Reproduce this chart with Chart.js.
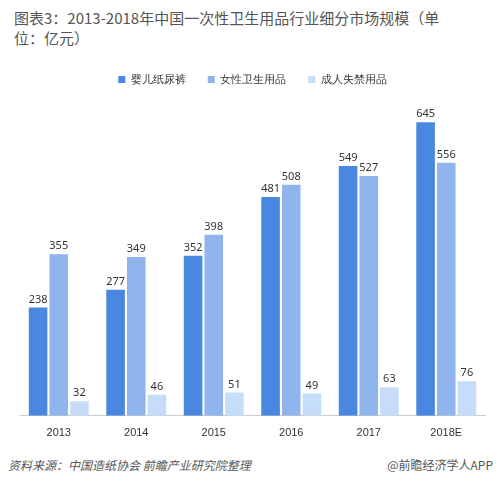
<!DOCTYPE html>
<html><head><meta charset="utf-8">
<script src="https://cdn.jsdelivr.net/npm/chart.js@4"></script>
<style>
body{margin:0;width:501px;height:484px;background:#fff;font-family:"Noto Sans CJK SC",sans-serif;position:relative;overflow:hidden}
#title{position:absolute;left:14px;top:8px;width:480px;font-size:15px;line-height:20px;color:#555}
#wrap{position:absolute;left:0;top:52px;width:501px;height:391px}
#foot{position:absolute;left:8px;top:456px;font-size:12px;color:#555;font-style:italic}
#foot2{position:absolute;right:8px;top:456px;font-size:12px;color:#555}
</style></head><body>
<div id="title">图表3：2013-2018年中国一次性卫生用品行业细分市场规模（单<br>位：亿元）</div>
<div id="wrap"><canvas id="c"></canvas></div>
<div id="foot">资料来源：中国造纸协会 前瞻产业研究院整理</div>
<div id="foot2">@前瞻经济学人APP</div>
<script>
const years = ["2013","2014","2015","2016","2017","2018E"]
const babyDiapers = [238,277,352,481,549,645]
const femaleHygiene = [355,349,398,508,527,556]
const adultIncontinence = [32,46,51,49,63,76]

const labelPlugin = {
    id: "labels",
    afterDatasetsDraw(chart) {
        const ctx = chart.ctx
        ctx.save()
        ctx.fillStyle = "#333"
        ctx.font = "11px 'Noto Sans', sans-serif"
        ctx.textAlign = "center"
        chart.data.datasets.forEach((ds, i) => {
            chart.getDatasetMeta(i).data.forEach((bar, j) => {
                ctx.fillText(ds.data[j], bar.x, bar.y - 8)
            })
        })
        ctx.restore()
    }
}

new Chart(document.getElementById("c"), {
    type: "bar",
    data: {
        labels: years,
        datasets: [
            { label: "婴儿纸尿裤", data: babyDiapers, backgroundColor: "#4a87de" },
            { label: "女性卫生用品", data: femaleHygiene, backgroundColor: "#8fb5ec" },
            { label: "成人失禁用品", data: adultIncontinence, backgroundColor: "#c6ddf9" }
        ]
    },
    options: {
        responsive: true,
        maintainAspectRatio: false,
        animation: false,
        layout: { padding: { left: 20, right: 16 } },
        plugins: {
            legend: {
                labels: { boxWidth: 7, boxHeight: 7, font: { size: 11 }, color: "#333", padding: 22 }
            },
            tooltip: { enabled: false }
        },
        scales: {
            x: {
                grid: { display: false },
                border: { color: "#ccc" },
                ticks: { color: "#333", font: { size: 11 } },
                categoryPercentage: 0.8,
                barPercentage: 0.95
            },
            y: { display: false, min: 0, max: 705 }
        }
    },
    plugins: [labelPlugin]
})
</script>
</body></html>
